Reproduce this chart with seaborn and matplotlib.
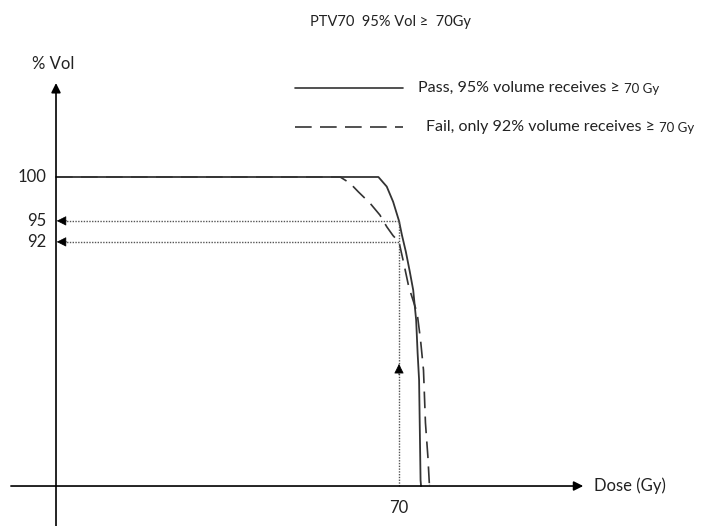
import matplotlib
matplotlib.use("Agg")
import matplotlib.pyplot as plt
import seaborn as sns
import pandas as pd

# schematic DVH: dose (Gy) vs volume (drawn on a schematic, non-linear vol axis)
pass_dose = [0, 65.8, 67.5, 68.8, 70.0, 70.6, 71.4, 72.2, 72.9, 73.5, 73.8, 74.1, 74.4, 74.5]
pass_vol = [100, 100, 96.9, 92.0, 85.8, 81.2, 75.8, 69.4, 63.4, 53.7, 43.0, 34.3, 1.9, 0]

fail_dose = [0, 58.0, 60.0, 61.7, 64.1, 66.1, 67.5, 68.8, 70.0, 70.9, 72.0, 73.7, 74.4, 75.0, 75.4, 75.9, 76.2, 76.2]
fail_vol = [100, 100, 98.0, 95.2, 91.5, 87.7, 83.9, 81.0, 79.0, 72.6, 64.4, 56.0, 47.2, 37.5, 20.4, 9.4, 1.0, 0]

# tick labels and where they sit on the schematic vol axis
vol_labels = ["100", "95", "92"]
vol_pos = [100, 85.8, 79.0]
dose_mark = 70

title = "PTV70  95% Vol \u2265  70Gy"
legend_labels = ["Pass, 95% volume receives \u2265 ", "Fail, only 92% volume receives \u2265 "]
legend_unit = "70 Gy"

sns.set_theme(style="white")
plt.rcParams["font.family"] = ["Lato", "DejaVu Sans"]

fig = plt.figure(figsize=(7.17, 5.26), dpi=100)
ax = fig.add_axes([0, 0, 1, 1])
ax.set_xlim(-11.43, 134.9)
ax.set_ylim(-12.94, 157.28)
ax.axis("off")

line_col = "#333333"
dot_col = "#555555"
txt_col = "#222222"
dash = (0, (10, 5))

df = pd.concat([
    pd.DataFrame({"dose": pass_dose, "vol": pass_vol, "plan": "pass"}),
    pd.DataFrame({"dose": fail_dose, "vol": fail_vol, "plan": "fail"}),
])
sns.lineplot(data=df[df.plan == "pass"], x="dose", y="vol", sort=False,
             color=line_col, lw=1.3, ax=ax, legend=False)
sns.lineplot(data=df[df.plan == "fail"], x="dose", y="vol", sort=False,
             color=line_col, lw=1.2, ax=ax, legend=False, linestyle=dash)

# axes with arrows
head = dict(arrowstyle="-|>", color="black", shrinkA=0, shrinkB=0)
ax.annotate("", xy=(107.6, 0), xytext=(-9.2, 0),
            arrowprops=dict(head, lw=1.2, mutation_scale=14))
ax.annotate("", xy=(0, 130.4), xytext=(0, -12.94),
            arrowprops=dict(head, lw=1.2, mutation_scale=14))

# dotted guides with solid heads
for v in vol_pos[1:]:
    ax.plot([1.0, dose_mark], [v, v], color=dot_col, lw=1.0, ls=(0, (1, 1)))
    ax.annotate("", xy=(0.15, v), xytext=(2.2, v),
                arrowprops=dict(head, lw=0.5, mutation_scale=15))
ax.plot([dose_mark, dose_mark], [0, vol_pos[1]], color=dot_col, lw=1.0, ls=(0, (1, 1)))
ax.annotate("", xy=(dose_mark, 39.5), xytext=(dose_mark, 36.0),
            arrowprops=dict(head, lw=0.5, mutation_scale=15))

fs = 12
for lab, pos in zip(vol_labels, vol_pos):
    ax.text(-2.0, pos, lab, ha="right", va="center", fontsize=fs, color=txt_col)
ax.text(dose_mark, -7.0, str(dose_mark), ha="center", va="center", fontsize=fs, color=txt_col)
ax.text(109.8, 0, "Dose (Gy)", ha="left", va="center", fontsize=fs, color=txt_col)
ax.text(-0.6, 136.5, "% Vol", ha="center", va="center", fontsize=fs, color=txt_col)

fig.text(390 / 717, 1 - 22 / 526, title, ha="center", va="center", fontsize=10.5, color=txt_col)

# hand-made legend
leg_y = [1 - 88 / 526, 1 - 127 / 526]
leg_x = [418 / 717, 426 / 717]
styles = ["-", dash]
for y, x, st, lab in zip(leg_y, leg_x, styles, legend_labels):
    fig.add_artist(plt.Line2D([295 / 717, 403 / 717], [y, y], color=line_col, lw=1.2,
                              ls=st, transform=fig.transFigure))
    t1 = fig.text(x, y, lab, ha="left", va="center", fontsize=11.5, color=txt_col)
    ax.annotate(legend_unit, xy=(1, 0), xycoords=t1, ha="left", va="bottom",
                fontsize=9.5, color=txt_col)

fig.savefig("out.png", dpi=100)
